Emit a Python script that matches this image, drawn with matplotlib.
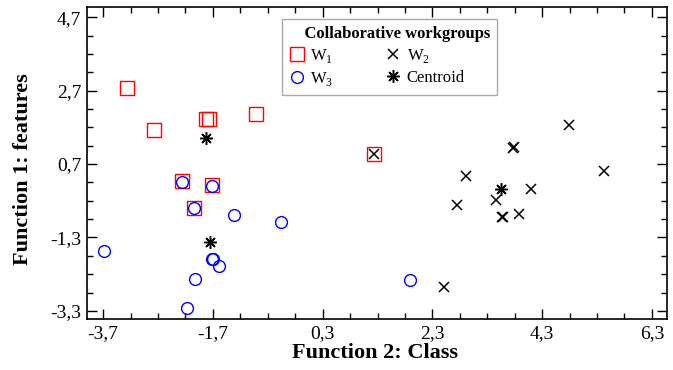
import matplotlib.pyplot as plt
from matplotlib.ticker import FixedLocator

plt.rcParams['font.family'] = ['Liberation Serif', 'DejaVu Serif']
plt.rcParams['mathtext.fontset'] = 'custom'
plt.rcParams['mathtext.rm'] = 'Liberation Serif'

# W1 (squares)
w1_x = [-3.26, -2.77, -1.82, -1.77, -0.91, -2.27, -2.05, -1.71, 1.23]
w1_y = [2.78, 1.64, 1.92, 1.92, 2.06, 0.25, -0.50, 0.13, 0.97]

# W2 (x marks)
w2_x = [1.23, 4.79, 3.76, 3.78, 5.43, 2.91, 4.09, 3.46, 2.75, 3.57, 3.59, 3.87, 2.51]
w2_y = [0.97, 1.77, 1.15, 1.16, 0.50, 0.38, 0.02, -0.28, -0.42, -0.75, -0.74, -0.67, -2.66]

# W3 (circles)
w3_x = [-3.68, -2.27, -1.71, -2.05, -1.32, -0.45, -1.72, -1.69, -1.59, -2.02, -2.17, 1.90]
w3_y = [-1.67, 0.22, 0.11, -0.50, -0.69, -0.89, -1.89, -1.89, -2.08, -2.42, -3.23, -2.45]

# group centroids
cen_x = [-1.82, -1.75, 3.55]
cen_y = [1.40, -1.42, 0.03]

xticks = [-3.7, -1.7, 0.3, 2.3, 4.3, 6.3]
yticks = [-3.3, -1.3, 0.7, 2.7, 4.7]

fig = plt.figure(figsize=(6.73, 3.70), dpi=100)
ax = fig.add_axes([0.1288, 0.137, 0.8627, 0.843])

h1, = ax.plot(w1_x, w1_y, 's', ms=9.5, mfc='none', mec='red', mew=1.0, ls='none', label='W$_1$')
h3, = ax.plot(w3_x, w3_y, 'o', ms=8.5, mfc='none', mec='blue', mew=1.0, ls='none', label='W$_3$')
h2, = ax.plot(w2_x, w2_y, 'x', ms=7.5, color='black', mew=1.1, ls='none', label='W$_2$')
hc, = ax.plot(cen_x, cen_y, marker=(8, 2, 0), ms=9, color='black', mew=1.1, ls='none', label='Centroid')

ax.set_xlim(-4.0, 6.58)
ax.set_ylim(-3.53, 4.97)
ax.xaxis.set_major_locator(FixedLocator(xticks))
ax.yaxis.set_major_locator(FixedLocator(yticks))
ax.set_xticklabels([f"{v:.1f}".replace('.', ',') for v in xticks])
ax.set_yticklabels([f"{v:.1f}".replace('.', ',') for v in yticks])
ax.xaxis.set_minor_locator(FixedLocator([-3.7 + 0.5 * i for i in range(22)]))
ax.yaxis.set_minor_locator(FixedLocator([-3.3 + 0.5 * i for i in range(17)]))
ax.tick_params(which='both', direction='in', top=True, right=True, labelsize=14, width=1.0)
ax.tick_params(which='major', length=7, pad=4)
ax.tick_params(which='minor', length=4)
for s in ax.spines.values():
    s.set_linewidth(1.2)

ax.set_xlabel('Function 2: Class', fontsize=16, fontweight='bold')
ax.set_ylabel('Function 1: features', fontsize=16, fontweight='bold')
ax.xaxis.set_label_coords(0.497, -0.075)
ax.yaxis.set_label_coords(-0.092, 0.482)

leg = ax.legend(handles=[h1, h3, h2, hc], ncol=2, title='    Collaborative workgroups',
                loc='upper left', bbox_to_anchor=(0.336, 0.962), borderaxespad=0,
                fancybox=False, edgecolor='#aaaaaa', fontsize=12, handletextpad=0.3,
                columnspacing=3.1, labelspacing=0.3, borderpad=0.4, handlelength=1.0,
                framealpha=1, alignment='left')
leg.get_title().set_fontweight('bold')
leg.get_title().set_fontsize(12)

fig.savefig('out.png', dpi=100)
